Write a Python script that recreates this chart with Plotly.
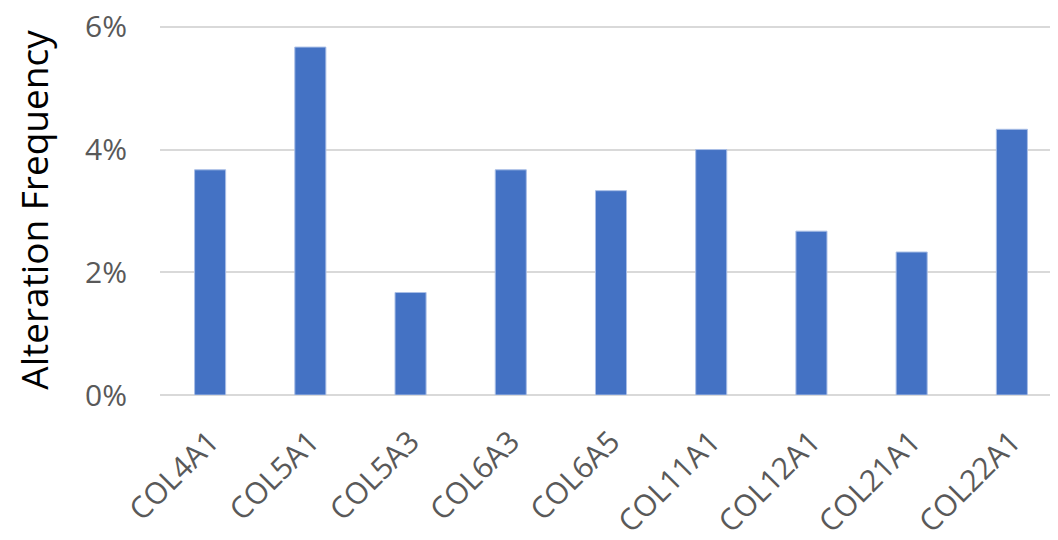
import plotly.graph_objects as go

genes = ["COL4A1", "COL5A1", "COL5A3", "COL6A3", "COL6A5",
         "COL11A1", "COL12A1", "COL21A1", "COL22A1"]
freq = [0.0367, 0.0567, 0.0167, 0.0367, 0.0333,
        0.0400, 0.0267, 0.0233, 0.0433]

fig = go.Figure()
fig.add_trace(go.Bar(
    x=genes, y=freq,
    marker=dict(color="#4472C4", line=dict(color="#A9BEE6", width=1)),
    width=0.31,
))

# the page body adds an 8px offset, margins below allow for it
fig.update_layout(
    width=1058, height=540,
    margin=dict(l=152, r=4, t=17, b=153),
    plot_bgcolor="white", paper_bgcolor="white",
    font=dict(family="Open Sans", color="#595959"),
    showlegend=False,
    xaxis=dict(
        range=[-0.5, 8.5],
        tickangle=-45,
        tickfont=dict(size=30, color="#595959"),
        showgrid=False,
        showline=False,
        ticks="",
        ticklabelstandoff=22,
        automargin=False,
    ),
    yaxis=dict(
        range=[0, 0.0603],  # a touch above 6% so the top gridline is drawn
        tickvals=[0, 0.02, 0.04, 0.06],
        tickformat=".0%",
        tickfont=dict(size=30, color="#595959"),
        ticklabeloverflow="allow",
        gridcolor="#D9D9D9", gridwidth=1.5,
        zeroline=True, zerolinecolor="#D9D9D9", zerolinewidth=1.5,
        ticklabelstandoff=32,
        automargin=False,
        title=dict(text="Alteration Frequency", font=dict(size=37, color="#000000"),
                   standoff=36),
    ),
)

fig.write_html("out.html")
